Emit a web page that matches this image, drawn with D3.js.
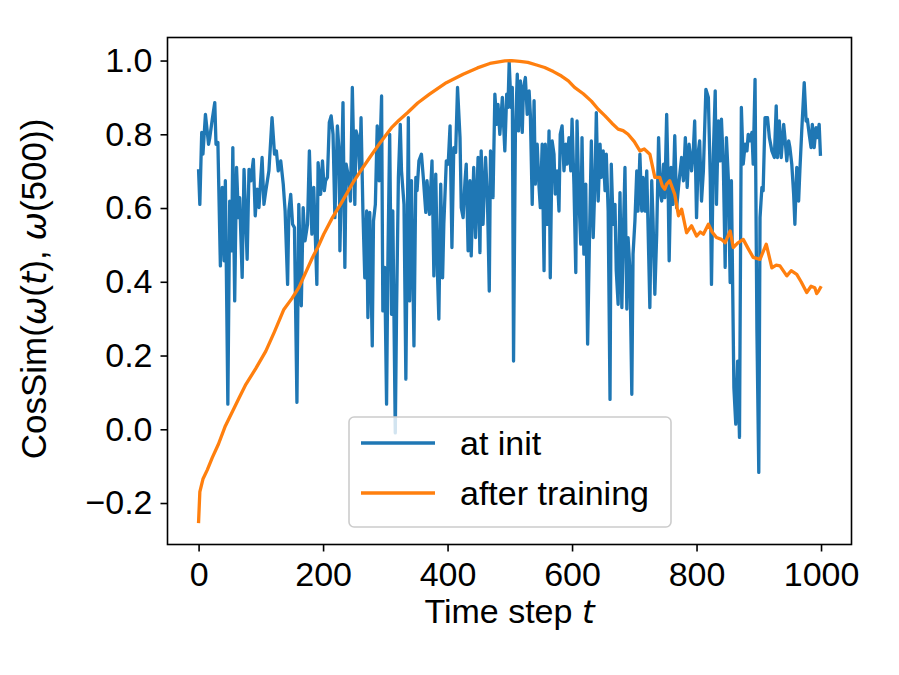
<!DOCTYPE html>
<html>
<head>
<meta charset="utf-8">
<script src="https://cdn.jsdelivr.net/npm/d3@7"></script>
<style>
  body { margin: 0; background: #fff; }
  text { font-family: "Liberation Sans", Arial, Helvetica, sans-serif; fill: #000; }
</style>
</head>
<body>
<div id="chart"></div>
<script>
// [time step, cosine similarity to step 500]
const atInit = [
  [0,0.701],[2,0.610],[5,0.805],[7,0.746],[11,0.854],[16,0.773],[18,0.791],[22,0.841],[26,0.886],[28,0.773],
  [31,0.778],[35,0.443],[38,0.656],[41,0.457],[43,0.674],[47,0.068],[50,0.619],[53,0.484],[55,0.764],[58,0.348],
  [61,0.710],[64,0.574],[66,0.628],[70,0.412],[73,0.705],[78,0.461],[81,0.705],[84,0.674],[88,0.732],[91,0.579],
  [94,0.651],[97,0.601],[102,0.737],[105,0.610],[108,0.647],[113,0.701],[118,0.845],[122,0.746],[125,0.755],[128,0.701],
  [132,0.728],[136,0.665],[139,0.592],[143,0.393],[145,0.592],[148,0.637],[151,0.556],[154,0.547],[158,0.073],[161,0.610],
  [165,0.335],[168,0.601],[171,0.511],[175,0.556],[178,0.755],[182,0.529],[185,0.656],[190,0.393],[192,0.723],[196,0.637],
  [199,0.728],[202,0.647],[204,0.674],[207,0.683],[210,0.832],[213,0.850],[216,0.800],[219,0.574],[223,0.823],[226,0.746],
  [227,0.484],[229,0.638],[232,0.886],[235,0.439],[237,0.719],[241,0.683],[244,0.619],[247,0.927],[251,0.610],[253,0.809],
  [256,0.791],[259,0.701],[261,0.845],[264,0.592],[267,0.411],[270,0.592],[272,0.303],[275,0.588],[279,0.226],[281,0.565],
  [284,0.610],[287,0.823],[290,0.674],[294,0.904],[296,0.321],[299,0.439],[302,0.068],[304,0.439],[307,0.800],[310,0.312],
  [312,0.592],[316,-0.01],[318,0.312],[321,0.683],[324,0.827],[326,0.701],[330,0.610],[333,0.136],[337,0.845],[339,0.348],
  [342,0.674],[346,0.226],[349,0.683],[351,0.647],[354,0.728],[358,0.746],[361,0.683],[365,0.588],[367,0.674],[371,0.583],
  [375,0.728],[378,0.416],[381,0.692],[384,0.411],[386,0.299],[389,0.665],[392,0.411],[394,0.556],[398,0.728],[401,0.719],
  [404,0.823],[407,0.493],[410,0.764],[413,0.751],[416,0.927],[420,0.791],[422,0.601],[425,0.574],[428,0.674],[430,0.719],
  [433,0.484],[436,0.674],[438,0.470],[442,0.710],[445,0.520],[449,0.737],[452,0.479],[454,0.755],[457,0.556],[461,0.737],
  [464,0.628],[467,0.375],[469,0.755],[473,0.628],[476,0.909],[479,0.827],[481,0.881],[484,0.800],[488,0.900],[492,0.755],
  [495,0.909],[497,0.873],[499,0.995],[502,0.873],[504,0.927],[506,0.185],[509,0.809],[512,0.963],[514,0.809],[517,0.945],
  [520,0.805],[522,0.927],[525,0.954],[528,0.854],[531,0.918],[533,0.854],[536,0.610],[539,0.891],[541,0.665],[544,0.773],
  [547,0.656],[549,0.601],[552,0.773],[555,0.430],[557,0.773],[560,0.556],[563,0.809],[565,0.411],[568,0.782],[571,0.746],
  [573,0.638],[576,0.701],[579,0.592],[581,0.800],[584,0.823],[587,0.701],[590,0.773],[592,0.719],[595,0.791],[598,0.701],
  [600,0.841],[603,0.665],[606,0.425],[608,0.836],[611,0.628],[614,0.502],[616,0.791],[619,0.475],[622,0.665],[625,0.231],
  [628,0.520],[631,0.782],[634,0.520],[637,0.683],[639,0.859],[642,0.619],[645,0.773],[647,0.683],[650,0.755],[653,0.647],
  [655,0.746],[658,0.592],[661,0.081],[663,0.719],[666,0.556],[669,0.610],[671,0.430],[674,0.339],[677,0.642],[680,0.330],
  [682,0.502],[685,0.710],[688,0.326],[690,0.520],[693,0.430],[696,0.095],[698,0.475],[701,0.565],[704,0.701],[706,0.592],
  [709,0.746],[712,0.592],[714,0.683],[717,0.592],[720,0.701],[722,0.556],[725,0.330],[728,0.674],[730,0.574],[733,0.366],
  [736,0.529],[739,0.791],[742,0.638],[744,0.619],[747,0.719],[749,0.628],[752,0.854],[754,0.701],[756,0.457],[759,0.710],
  [762,0.610],[765,0.796],[768,0.601],[772,0.674],[776,0.737],[779,0.674],[782,0.791],[785,0.656],[788,0.773],[792,0.701],
  [795,0.764],[797,0.836],[800,0.574],[803,0.755],[805,0.782],[808,0.619],[811,0.701],[815,0.922],[819,0.900],[822,0.683],
  [824,0.393],[827,0.746],[830,0.918],[832,0.610],[835,0.836],[838,0.728],[840,0.841],[843,0.719],[846,0.439],[848,0.791],
  [851,0.683],[854,0.398],[856,0.674],[860,0.113],[863,0.014],[866,0.185],[869,-0.022],[872,0.873],[875,0.719],[878,0.773],
  [881,0.755],[883,0.800],[886,0.782],[889,0.805],[891,0.719],[894,0.949],[897,0.267],[900,-0.117],[902,0.574],[905,0.656],
  [907,0.647],[910,0.845],[914,0.845],[917,0.791],[921,0.755],[925,0.737],[928,0.877],[930,0.737],[933,0.836],[936,0.737],
  [940,0.827],[942,0.791],[945,0.728],[948,0.782],[950,0.764],[953,0.719],[956,0.638],[958,0.556],[961,0.710],[964,0.619],
  [966,0.701],[969,0.809],[973,0.940],[976,0.836],[978,0.841],[981,0.800],[984,0.764],[986,0.827],[989,0.764],[992,0.818],
  [994,0.791],[997,0.827],[999,0.746]
]

const afterTraining = [
  [0,-0.25],[2,-0.17],[7,-0.135],[14,-0.11],[22,-0.077],[32,-0.04],[43,0.009],[55,0.05],[65,0.085],[76,0.122],
  [92,0.165],[108,0.212],[122,0.265],[137,0.325],[150,0.355],[161,0.384],[172,0.425],[183,0.466],[192,0.495],[201,0.529],
  [215,0.574],[228,0.61],[240,0.645],[248,0.669],[262,0.705],[275,0.737],[292,0.778],[310,0.818],[322,0.838],[336,0.859],
  [352,0.885],[371,0.909],[398,0.94],[425,0.963],[448,0.98],[468,0.992],[492,0.999],[503,1.0],[516,0.998],[529,0.995],
  [543,0.988],[556,0.981],[570,0.97],[583,0.958],[594,0.945],[604,0.927],[618,0.91],[631,0.89],[642,0.868],[653,0.85],
  [664,0.83],[674,0.814],[682,0.81],[690,0.80],[700,0.78],[709,0.755],[716,0.76],[725,0.746],[733,0.683],[741,0.683],
  [745,0.66],[749,0.651],[752,0.665],[757,0.674],[765,0.637],[771,0.579],[776,0.597],[784,0.533],[792,0.552],[800,0.524],
  [806,0.535],[811,0.529],[819,0.556],[825,0.535],[832,0.52],[840,0.515],[846,0.506],[854,0.538],[859,0.493],[866,0.505],
  [875,0.515],[883,0.49],[891,0.466],[902,0.461],[912,0.502],[921,0.438],[928,0.445],[934,0.443],[945,0.416],[952,0.43],
  [961,0.42],[968,0.4],[977,0.371],[984,0.388],[990,0.384],[993,0.368],[996,0.375],[999,0.384]
]

const xTicks = [0, 200, 400, 600, 800, 1000]
const yTicks = [-0.2, 0.0, 0.2, 0.4, 0.6, 0.8, 1.0]
const seriesNames = ["at init", "after training"]
const seriesColors = ["#1f77b4", "#ff7f0e"]

const width = 899, height = 675
const margin = {top: 37.5, right: 47.5, bottom: 130.5, left: 167.5}
const fontSize = 34
const lineWidth = 3.3

const svg = d3.select('#chart').append('svg')
  .attr('width', width)
  .attr('height', height)
  .attr('viewBox', [0, 0, width, height])

// matplotlib-style 5% padding on both axes
const x = d3.scaleLinear()
  .domain([-49.95, 1048.95])
  .range([margin.left, width - margin.right])

const y = d3.scaleLinear()
  .domain([-0.3125, 1.0625])
  .range([height - margin.bottom, margin.top])

const line = d3.line()
  .x(d => x(d[0]))
  .y(d => y(d[1]))

svg.append('path')
  .datum(atInit)
  .attr('d', line)
  .attr('fill', 'none')
  .attr('stroke', seriesColors[0])
  .attr('stroke-width', lineWidth)
  .attr('stroke-linejoin', 'round')
  .attr('stroke-linecap', 'square')

svg.append('path')
  .datum(afterTraining)
  .attr('d', line)
  .attr('fill', 'none')
  .attr('stroke', seriesColors[1])
  .attr('stroke-width', lineWidth)
  .attr('stroke-linejoin', 'round')
  .attr('stroke-linecap', 'square')

// axes
const xAxis = svg.append('g')
  .attr('transform', `translate(0,${height - margin.bottom})`)
  .call(d3.axisBottom(x).tickValues(xTicks).tickFormat(d3.format('d')).tickSize(7).tickPadding(10))

const yAxis = svg.append('g')
  .attr('transform', `translate(${margin.left},0)`)
  .call(d3.axisLeft(y).tickValues(yTicks).tickFormat(d => d3.format('.1f')(d).replace('-', '\u2212')).tickSize(7).tickPadding(8))

for (const g of [xAxis, yAxis]) {
  g.select('.domain').remove()
  g.selectAll('.tick line').attr('stroke', '#000').attr('stroke-width', 1.6)
  g.selectAll('.tick text')
    .attr('font-size', fontSize)
    .attr('font-family', '"Liberation Sans", Arial, sans-serif')
    .attr('fill', '#000')
}

// frame
svg.append('rect')
  .attr('x', margin.left)
  .attr('y', margin.top)
  .attr('width', width - margin.left - margin.right)
  .attr('height', height - margin.top - margin.bottom)
  .attr('fill', 'none')
  .attr('stroke', '#000')
  .attr('stroke-width', 1.6)

// axis labels
const xLabel = svg.append('text')
  .attr('x', (margin.left + width - margin.right) / 2)
  .attr('y', 623)
  .attr('text-anchor', 'middle')
  .attr('font-size', fontSize)
xLabel.append('tspan').text('Time step ')
xLabel.append('tspan').attr('font-style', 'italic').attr('font-family', '"DejaVu Sans", sans-serif').attr('font-size', fontSize * 0.95).text('t')

const yLabel = svg.append('text')
  .attr('transform', `translate(46,${(margin.top + height - margin.bottom) / 2 - 2}) rotate(-90)`)
  .attr('text-anchor', 'middle')
  .attr('font-size', fontSize + 1)
const yParts = [['CosSim(', false], ['\u03c9', true], ['(', false], ['t', true], ['), ', false], ['\u03c9', true], ['(500))', false]]
for (const [txt, it] of yParts) {
  const ts = yLabel.append('tspan').text(txt)
  if (it) ts.attr('font-style', 'italic').attr('font-family', '"DejaVu Sans", sans-serif').attr('font-size', fontSize)
}

// legend
const legend = svg.append('g')
legend.append('rect')
  .attr('x', 349)
  .attr('y', 417)
  .attr('width', 322)
  .attr('height', 110)
  .attr('rx', 5)
  .attr('fill', '#fff')
  .attr('fill-opacity', 0.8)
  .attr('stroke', '#cccccc')
  .attr('stroke-width', 1.6)

seriesNames.forEach((name, i) => {
  const ly = 443 + i * 50
  legend.append('line')
    .attr('x1', 361).attr('x2', 435)
    .attr('y1', ly).attr('y2', ly)
    .attr('stroke', seriesColors[i])
    .attr('stroke-width', lineWidth)
  legend.append('text')
    .attr('x', 460)
    .attr('y', ly + 12)
    .attr('font-size', fontSize)
    .text(name)
})
</script>
</body>
</html>
